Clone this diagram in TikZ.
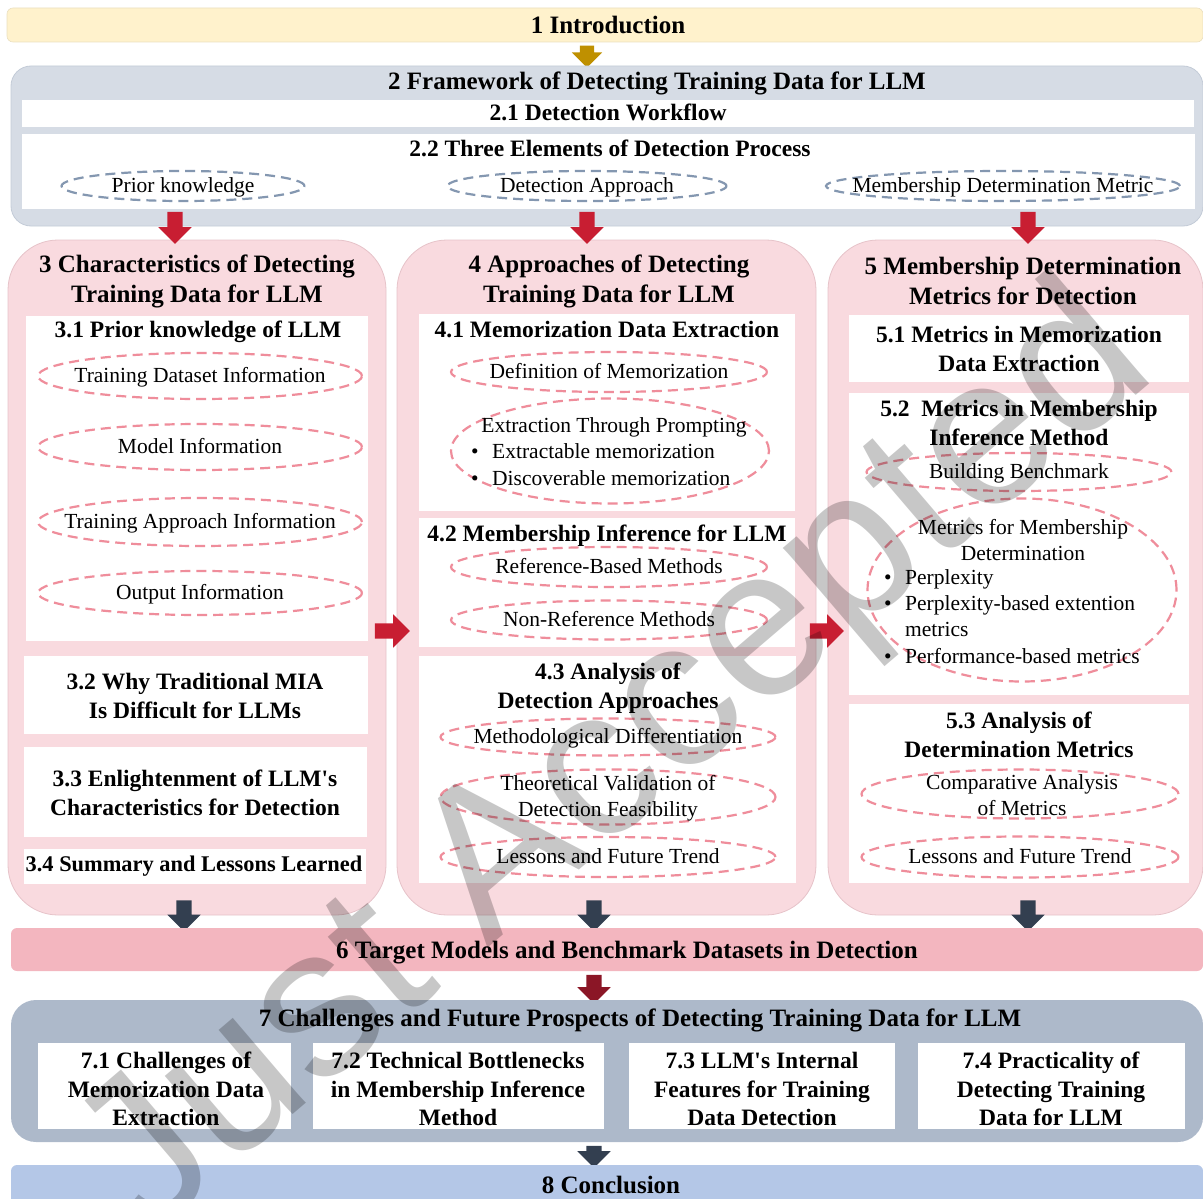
\documentclass[tikz,border=0pt]{standalone}
\usepackage{fontspec}
\setmainfont{Liberation Serif}
\newfontfamily\apfont{Liberation Serif}[Ligatures=TeXOff]
\newfontfamily\wmfont{Liberation Sans}
\usetikzlibrary{shapes.geometric,shapes.arrows}
\definecolor{introY}{HTML}{FFF2CC}
\definecolor{introB}{HTML}{EADFBF}
\definecolor{goldA}{HTML}{BF9000}
\definecolor{boxTwo}{HTML}{D6DCE5}
\definecolor{boxTwoB}{HTML}{C3CBD7}
\definecolor{ellgray}{HTML}{8497B0}
\definecolor{redA}{HTML}{C81E32}
\definecolor{colP}{HTML}{F9DADF}
\definecolor{colB}{HTML}{E6C3C9}
\definecolor{ellpink}{HTML}{EF8D9B}
\definecolor{darkA}{HTML}{333F50}
\definecolor{bandSix}{HTML}{F3B6BF}
\definecolor{redDark}{HTML}{8B1626}
\definecolor{boxSeven}{HTML}{ADB9CA}
\definecolor{bandEight}{HTML}{B4C7E7}
\newcommand{\apos}{{\apfont '}}
\begin{document}
\begin{tikzpicture}[x=1pt,y=-1pt,
  titlef/.style={font=\fontsize{25}{30}\selectfont\bfseries, align=center, inner sep=0pt},
  subf/.style={font=\fontsize{23.5}{28.5}\selectfont\bfseries, align=center, inner sep=0pt},
  txt/.style={font=\fontsize{21.5}{26}\selectfont, align=center, inner sep=0pt},
  ti1/.style={titlef, text height=20pt, text depth=5pt},
  su1/.style={subf, text height=19pt, text depth=5pt},
  tx1/.style={txt, text height=17pt, text depth=4pt},
  gell/.style={ellipse, draw=ellgray, line width=2.2pt, dash pattern=on 10pt off 6pt, inner sep=0pt},
  pell/.style={ellipse, draw=ellpink, line width=2.2pt, dash pattern=on 10pt off 6pt, inner sep=0pt},
  blk/.style={single arrow, draw=none, inner xsep=0pt, inner ysep=7.5pt, single arrow head extend=9pt, single arrow tip angle=90, minimum width=0pt},
  colbox/.style={draw=colB, line width=0.8pt, fill=colP, rounded corners=50pt}
]
\useasboundingbox (0,0) rectangle (1203,1199);

% ---------- 1 Introduction
\draw[introB, line width=0.6pt, fill=introY, rounded corners=6pt] (7,8) rectangle (1203,42);
\node[ti1] (t1) at (608,26) {1 Introduction};
\node[blk, fill=goldA, minimum height=22pt, rotate=-90, inner ysep=7pt, single arrow head extend=8pt] (a1) at (587,53) {};

% ---------- 2 Framework
\draw[boxTwoB, line width=0.8pt, fill=boxTwo, rounded corners=20pt] (11,66) rectangle (1203,226);
\node[ti1] (t2) at (657,82) {2 Framework of Detecting Training Data for LLM};
\fill[white] (22,100) rectangle (1194,127);
\node[su1] (t21) at (608,114) {2.1 Detection Workflow};
\fill[white] (22,134) rectangle (1195,209);
\node[su1] (t22) at (610,150) {2.2 Three Elements of Detection Process};
\node[gell, minimum width=243pt, minimum height=30pt] (e1) at (183,186) {};
\node[tx1] (e1t) at (e1) {Prior knowledge};
\node[gell, minimum width=279pt, minimum height=30pt] (e2) at (587,186) {};
\node[tx1] (e2t) at (e2) {Detection Approach};
\node[gell, minimum width=354pt, minimum height=30pt] (e3) at (1003,186) {};
\node[tx1] (e3t) at (e3) {Membership Determination Metric};

% ---------- columns
\draw[colbox] (8,240) rectangle (386,915);
\draw[colbox] (397,240) rectangle (816,915);
\draw[colbox] (828,240) rectangle (1203,915);

\node[blk, fill=redA, minimum height=32pt, rotate=-90] (ra1) at (175,224) {};
\node[blk, fill=redA, minimum height=32pt, rotate=-90] (ra2) at (587,224) {};
\node[blk, fill=redA, minimum height=32pt, rotate=-90] (ra3) at (1028,224) {};

% column 3
\node[titlef] (t3) at (197,281) {3 Characteristics of Detecting\\Training Data for LLM};
\fill[white] (26,316) rectangle (368,641);
\node[su1] (t31) at (198,330) {3.1 Prior knowledge of LLM};
\node[pell, minimum width=324pt, minimum height=46pt] (p1) at (200,376) {};
\node[tx1] (p1t) at (p1) {Training Dataset Information};
\node[pell, minimum width=324pt, minimum height=46pt] (p2) at (200,447) {};
\node[tx1] (p2t) at (p2) {Model Information};
\node[pell, minimum width=324pt, minimum height=48pt] (p3) at (200,522) {};
\node[tx1] (p3t) at (p3) {Training Approach Information};
\node[pell, minimum width=324pt, minimum height=44pt] (p4) at (200,593) {};
\node[tx1] (p4t) at (p4) {Output Information};
\fill[white] (24,656) rectangle (368,734);
\node[subf] (t32) at (195,696) {3.2 Why Traditional MIA\\Is Difficult for LLMs};
\fill[white] (24,747) rectangle (367,837);
\node[subf] (t33) at (195,793) {3.3 Enlightenment of LLM\apos s\\Characteristics for Detection};
\fill[white] (24,849) rectangle (366,884);
\node[su1, font=\fontsize{22.4}{27}\selectfont\bfseries] (t34) at (194,864) {3.4 Summary and Lessons Learned};

% column 4
\node[titlef] (t4) at (609,281) {4 Approaches of Detecting\\Training Data for LLM};
\fill[white] (419,314) rectangle (795,511);
\node[su1] (t41) at (607,330) {4.1 Memorization Data Extraction};
\node[pell, minimum width=316pt, minimum height=40pt] (q1) at (609,372) {};
\node[tx1] (q1t) at (q1) {Definition of Memorization};
\node[pell, minimum width=318pt, minimum height=105pt] (q2) at (610,451) {};
\node[tx1] (q2a) at (614,426) {Extraction Through Prompting};
\node[tx1] (q2b) at (475,452) {•};
\node[tx1, anchor=west] (q2c) at (492,452) {Extractable memorization};
\node[tx1] (q2d) at (475,479) {•};
\node[tx1, anchor=west] (q2e) at (492,479) {Discoverable memorization};
\fill[white] (419,518) rectangle (795,647);
\node[su1] (t42) at (607,534) {4.2 Membership Inference for LLM};
\node[pell, minimum width=316pt, minimum height=40pt] (q3) at (609,567) {};
\node[tx1] (q3t) at (q3) {Reference-Based Methods};
\node[pell, minimum width=316pt, minimum height=39pt] (q4) at (609,620) {};
\node[tx1] (q4t) at (q4) {Non-Reference Methods};
\fill[white] (419,656) rectangle (796,883);
\node[subf] (t43) at (608,688) {4.3 Analysis of\\Detection Approaches};
\node[pell, minimum width=335pt, minimum height=37pt] (q5) at (608,737) {};
\node[tx1] (q5t) at (q5) {Methodological Differentiation};
\node[pell, minimum width=335pt, minimum height=55pt] (q6) at (608,797) {};
\node[txt] (q6t) at (608,798) {Theoretical Validation of\\Detection Feasibility};
\node[pell, minimum width=335pt, minimum height=40pt] (q7) at (608,857) {};
\node[tx1] (q7t) at (q7) {Lessons and Future Trend};

% column 5
\node[titlef] (t5) at (1023,281) {5 Membership Determination\\Metrics for Detection};
\fill[white] (849,315) rectangle (1189,382);
\node[subf] (t51) at (1019,349) {5.1 Metrics in Memorization\\Data Extraction};
\fill[white] (849,393) rectangle (1189,695);
\node[subf] (t52) at (1019,423) {5.2\ \ Metrics in Membership\\Inference Method};
\node[pell, minimum width=305pt, minimum height=38pt] (s1) at (1019,472) {};
\node[tx1] (s1t) at (s1) {Building Benchmark};
\node[pell, minimum width=309pt, minimum height=183pt] (s2) at (1022,590) {};
\node[txt] (s2a) at (1023,540) {Metrics for Membership\\Determination};
\node[tx1] (s2b) at (888,578) {•};
\node[tx1, anchor=west] (s2c) at (905,578) {Perplexity};
\node[tx1] (s2d) at (888,604) {•};
\node[tx1, anchor=west] (s2e) at (905,604) {Perplexity-based extention};
\node[tx1, anchor=west] (s2f) at (905,630) {metrics};
\node[tx1] (s2g) at (888,657) {•};
\node[tx1, anchor=west] (s2h) at (905,657) {Performance-based metrics};
\fill[white] (849,704) rectangle (1189,883);
\node[subf] (t53) at (1019,735) {5.3 Analysis of\\Determination Metrics};
\node[pell, minimum width=317pt, minimum height=49pt] (s3) at (1020,794) {};
\node[txt] (s3t) at (1022,795) {Comparative Analysis\\of Metrics};
\node[pell, minimum width=317pt, minimum height=41pt] (s4) at (1020,857) {};
\node[tx1] (s4t) at (s4) {Lessons and Future Trend};

\node[blk, fill=redA, minimum height=35pt] (ra4) at (388.5,631) {};
\node[blk, fill=redA, minimum height=34pt] (ra5) at (823,631) {};

% ---------- 6
\node[blk, fill=darkA, minimum height=31pt, rotate=-90] (da1) at (184,912) {};
\node[blk, fill=darkA, minimum height=31pt, rotate=-90] (da2) at (594,912) {};
\node[blk, fill=darkA, minimum height=31pt, rotate=-90] (da3) at (1028,912) {};
\fill[bandSix, rounded corners=6pt] (11,928) rectangle (1203,971);
\node[ti1] (t6) at (627,951) {6 Target Models and Benchmark Datasets in Detection};
\node[blk, fill=redDark, minimum height=29pt, rotate=-90] (da4) at (594,985.5) {};

% ---------- 7
\fill[boxSeven, rounded corners=25pt] (11,1000) rectangle (1203,1142);
\node[ti1] (t7) at (640,1019) {7 Challenges and Future Prospects of Detecting Training Data for LLM};
\fill[white] (38,1043) rectangle (291,1129);
\node[subf] (t71) at (166,1089) {7.1 Challenges of\\Memorization Data\\Extraction};
\fill[white] (313,1043) rectangle (604,1129);
\node[subf] (t72) at (458,1089) {7.2 Technical Bottlenecks\\in Membership Inference\\Method};
\fill[white] (629,1043) rectangle (895,1129);
\node[subf] (t73) at (762,1089) {7.3 LLM\apos s Internal\\Features for Training\\Data Detection};
\fill[white] (918,1043) rectangle (1185,1129);
\node[subf] (t74) at (1051,1089) {7.4 Practicality of\\Detecting Training\\Data for LLM};
\node[blk, fill=darkA, minimum height=22pt, rotate=-90] (da5) at (594,1153) {};

% ---------- 8
\fill[bandEight, rounded corners=6pt] (11,1165) rectangle (1203,1230);
\node[ti1] (t8) at (611,1186) {8 Conclusion};

% ---------- watermark
\node[font=\fontsize{212}{212}\wmfont, text=black, opacity=0.22, rotate=40.5, inner sep=0pt] (wm) at (618,765) {Just Accepted};
\end{tikzpicture}
\end{document}
